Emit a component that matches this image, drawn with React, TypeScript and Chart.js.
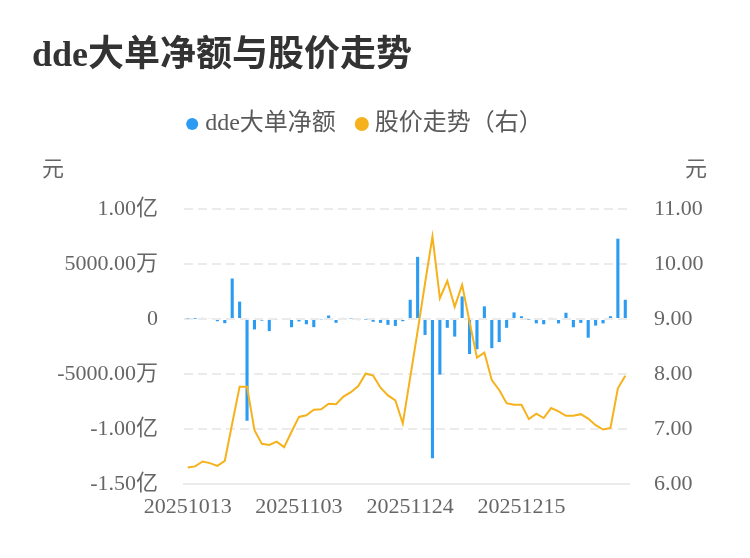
import { useEffect, useRef } from 'react';
import { Chart, registerables } from 'chart.js';

Chart.register(...registerables);

const TITLE = 'dde大单净额与股价走势';
const UNIT = '元';
const SERIES_BAR = 'dde大单净额';
const SERIES_LINE = '股价走势（右）';

const dates = [
  '20251013', '20251014', '20251015', '20251016', '20251017',
  '20251020', '20251021', '20251022', '20251023', '20251024',
  '20251027', '20251028', '20251029', '20251030', '20251031',
  '20251103', '20251104', '20251105', '20251106', '20251107',
  '20251110', '20251111', '20251112', '20251113', '20251114',
  '20251117', '20251118', '20251119', '20251120', '20251121',
  '20251124', '20251125', '20251126', '20251127', '20251128',
  '20251201', '20251202', '20251203', '20251204', '20251205',
  '20251208', '20251209', '20251210', '20251211', '20251212',
  '20251215', '20251216', '20251217', '20251218', '20251219',
  '20251222', '20251223', '20251224', '20251225', '20251226',
  '20251229', '20251230', '20251231', '20260105', '20260106',
];

// dde大单净额, unit: 万元
const ddeNet = [
  50, 20, 100, 80, -200, -380, 3680, 1580, -9250, -950,
  -150, -1100, -80, 0, -750, -220, -480, -740, -60, 320,
  -350, 100, 50, -100, -40, -250, -350, -530, -630, -200,
  1750, 5650, -1450, -12650, -5050, -800, -1600, 2050, -3180, -2750,
  1150, -2650, -2100, -800, 600, 250, -40, -400, -480, 100,
  -400, 570, -750, -350, -1700, -600, -400, 250, 7300, 1750,
];

// 股价, unit: 元
const price = [
  6.30, 6.32, 6.41, 6.38, 6.33, 6.42, 7.10, 7.77, 7.77, 6.98,
  6.73, 6.71, 6.77, 6.67, 6.95, 7.22, 7.25, 7.35, 7.36, 7.46,
  7.45, 7.59, 7.67, 7.78, 8.01, 7.97, 7.75, 7.61, 7.52, 7.10,
  7.94, 8.78, 9.65, 10.50, 9.38, 9.69, 9.22, 9.62, 8.95, 8.30,
  8.39, 7.89, 7.71, 7.47, 7.44, 7.44, 7.18, 7.28, 7.20, 7.38,
  7.32, 7.24, 7.24, 7.27, 7.19, 7.07, 6.99, 7.02, 7.74, 7.97,
];

const leftMin = -15000;
const leftMax = 10000;
const leftStep = 5000;
const rightMin = 6;
const rightMax = 11;
const rightStep = 1;
const labelEvery = 15;

const BLUE = '#2c9cf2';
const ORANGE = '#f5b21c';
const GRID = '#ebebeb';
const FONT = "'Liberation Serif', 'Noto Sans CJK SC', serif";

function fmtLeft(v: number): string {
  if (v === 0) return '0';
  if (Math.abs(v) >= 10000) return (v / 10000).toFixed(2) + '亿';
  return v.toFixed(2) + '万';
}

export default function App() {
  const ref = useRef<HTMLCanvasElement>(null);

  useEffect(() => {
    if (!ref.current) return;
    const overlay = {
      id: 'overlayText',
      beforeLayout(chart: any) {
        const lg = chart.legend;
        if (lg && !lg.__patched) {
          const orig = lg.fit.bind(lg);
          lg.fit = function () {
            orig();
            this.height = 122;
          };
          lg.__patched = true;
        }
      },
      afterDraw(chart: any) {
        const ctx = chart.ctx;
        ctx.save();
        ctx.textAlign = 'left';
        ctx.textBaseline = 'middle';
        ctx.fillStyle = '#333333';
        ctx.font = `bold 36px ${FONT}`;
        ctx.fillText(TITLE, 32, 57);
        ctx.fillStyle = '#666666';
        ctx.font = `22px ${FONT}`;
        ctx.fillText(UNIT, 42, 170);
        ctx.fillText(UNIT, 685, 170);
        ctx.restore();
      },
    };

    const chart = new Chart(ref.current, {
      type: 'bar',
      data: {
        labels: dates,
        datasets: [
          {
            type: 'bar',
            label: SERIES_BAR,
            data: ddeNet,
            backgroundColor: BLUE,
            borderWidth: 0,
            categoryPercentage: 1,
            barPercentage: 0.42,
            yAxisID: 'y',
            order: 1,
          },
          {
            type: 'line',
            label: SERIES_LINE,
            data: price,
            borderColor: ORANGE,
            backgroundColor: ORANGE,
            borderWidth: 2,
            pointRadius: 0,
            tension: 0,
            yAxisID: 'y1',
            order: 0,
          },
        ] as any,
      },
      options: {
        animation: false,
        responsive: true,
        maintainAspectRatio: false,
        layout: { padding: { top: 87, right: 16, bottom: 0, left: 0 } },
        plugins: {
          title: { display: false },
          tooltip: { enabled: false },
          legend: {
            display: true,
            position: 'top',
            align: 'center',
            labels: {
              usePointStyle: true,
              pointStyle: 'circle',
              boxWidth: 2,
              boxHeight: 8.5,
              padding: 25,
              color: '#595959',
              font: { family: FONT, size: 24 },
              sort: (a: any, b: any) => a.datasetIndex - b.datasetIndex,
            },
          },
        },
        scales: {
          x: {
            type: 'category',
            offset: true,
            grid: { display: false, drawTicks: false },
            border: { display: true, color: GRID, width: 2 },
            ticks: {
              autoSkip: false,
              maxRotation: 0,
              minRotation: 0,
              padding: 10,
              color: '#666666',
              font: { family: FONT, size: 22 },
              callback: (_v: any, i: number) => (i % labelEvery === 0 ? dates[i] : ''),
            },
            afterFit: (s: any) => {
              s.height = 74;
            },
          },
          y: {
            type: 'linear',
            position: 'left',
            min: leftMin,
            max: leftMax,
            grid: {
              color: GRID,
              lineWidth: 2,
              drawTicks: false,
            },
            border: {
              display: false,
              dash: (ctx: any) => (ctx.tick && ctx.tick.value === leftMin ? [] : [9, 5]),
            },
            ticks: {
              stepSize: leftStep,
              padding: 26,
              color: '#666666',
              font: { family: FONT, size: 22 },
              callback: (v: any) => fmtLeft(Number(v)),
            },
            afterFit: (s: any) => {
              s.width = 184;
            },
          },
          y1: {
            type: 'linear',
            position: 'right',
            min: rightMin,
            max: rightMax,
            grid: { display: false, drawTicks: false },
            border: { display: false },
            ticks: {
              stepSize: rightStep,
              padding: 25,
              color: '#666666',
              font: { family: FONT, size: 22 },
              callback: (v: any) => Number(v).toFixed(2),
            },
            afterFit: (s: any) => {
              s.width = 105;
            },
          },
        },
      } as any,
      plugins: [overlay],
    });
    return () => chart.destroy();
  }, []);

  return (
    <div style={{ position: 'absolute', left: 0, top: 0, width: 750, height: 558 }}>
      <canvas ref={ref} />
    </div>
  );
}
